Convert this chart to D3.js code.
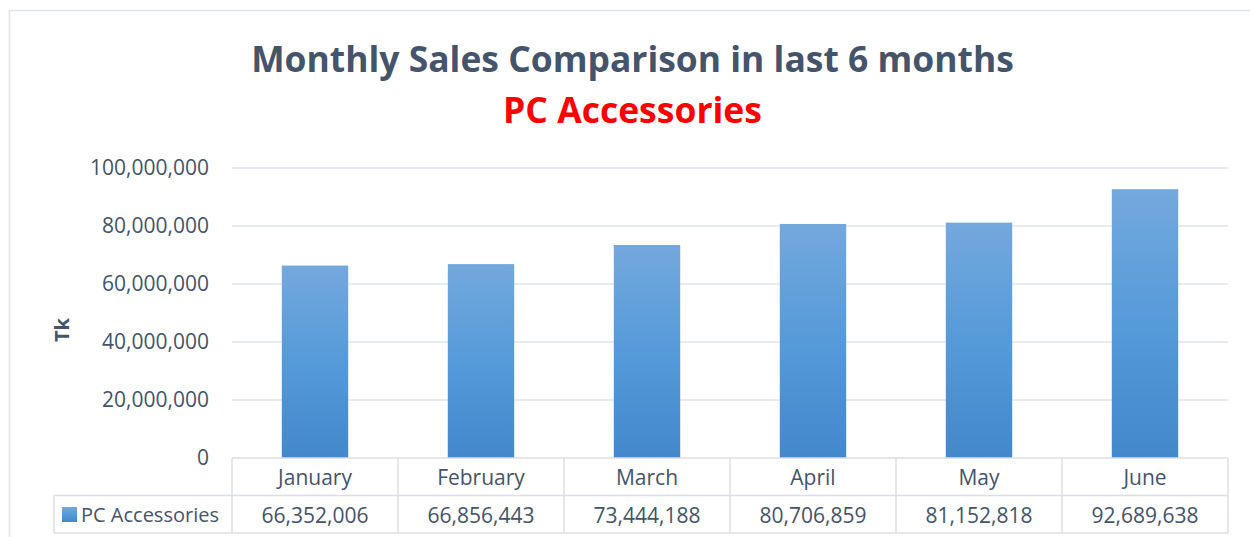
<!DOCTYPE html>
<html><head><meta charset="utf-8">
<script src="https://cdn.jsdelivr.net/npm/d3@7"></script>
<style>
html,body{margin:0;padding:0;background:#fff;}
svg{display:block;font-family:"Open Sans",sans-serif;}
</style></head>
<body><svg id="c" width="1250" height="537"></svg>
<script>
const categories = ["January","February","March","April","May","June"];
const values = [66352006, 66856443, 73444188, 80706859, 81152818, 92689638];
const seriesName = "PC Accessories";
const yTicks = [0, 20000000, 40000000, 60000000, 80000000, 100000000];
const titleText = "Monthly Sales Comparison in last 6 months";
const subtitleText = "PC Accessories";
const yAxisTitle = "Tk";

(function(){
const svg = d3.select("#c");
const txt = "#44546a", gridC = "#e1e5eb";
const pL = 232, pR = 1228, pT = 168, pB = 458;
const rowH = 37.5;

svg.append("rect").attr("x",9.5).attr("y",10.5).attr("width",1300).attr("height",600)
  .attr("fill","none").attr("stroke","#dfe3ea").attr("stroke-width",1.5);

const defs = svg.append("defs");
const grad = defs.append("linearGradient").attr("id","bg").attr("x1",0).attr("y1",0).attr("x2",0).attr("y2",1);
grad.append("stop").attr("offset","0%").attr("stop-color","#74a8dd");
grad.append("stop").attr("offset","50%").attr("stop-color","#559ad9");
grad.append("stop").attr("offset","100%").attr("stop-color","#4288cb");

const x = d3.scaleBand().domain(categories).range([pL,pR]).paddingInner(0).paddingOuter(0);
const y = d3.scaleLinear().domain([0,100000000]).range([pB,pT]);
const fmt = d3.format(",");

function fit(sel, w){
  const n = sel.node(); const fs = parseFloat(sel.attr("font-size"));
  const cw = n.getComputedTextLength();
  if (cw > 0) sel.attr("font-size", fs*w/cw);
}

const t1 = svg.append("text").attr("x",632.5).attr("y",72).attr("text-anchor","middle")
  .attr("font-weight","bold").attr("font-size",36).attr("fill",txt).text(titleText);
fit(t1, 763);
const t2 = svg.append("text").attr("x",632.5).attr("y",123).attr("text-anchor","middle")
  .attr("font-weight","bold").attr("font-size",36).attr("fill","#ff0000").text(subtitleText);
fit(t2, 259);

svg.append("g").selectAll("line").data(yTicks.filter(d=>d>0)).join("line")
  .attr("x1",pL).attr("x2",pR).attr("y1",d=>y(d)).attr("y2",d=>y(d))
  .attr("stroke",gridC).attr("stroke-width",1.5);

const yAxis = d3.axisLeft(y).tickValues(yTicks).tickFormat(fmt).tickSize(0).tickPadding(0);
const yg = svg.append("g").attr("transform",`translate(209,0)`).call(yAxis);
yg.select(".domain").remove();
yg.selectAll("text").attr("font-size",21).attr("fill",txt).attr("font-family","Open Sans");

svg.append("text").attr("transform","translate(69,330) rotate(-90)").attr("text-anchor","middle")
  .attr("font-weight","bold").attr("font-size",20).attr("fill",txt).text(yAxisTitle);

const bw = x.bandwidth()/2.5;
svg.append("g").selectAll("rect").data(values).join("rect")
  .attr("x",(d,i)=>x(categories[i])+x.bandwidth()/2-bw/2)
  .attr("width",bw)
  .attr("y",d=>y(d)).attr("height",d=>y(0)-y(d))
  .attr("fill","url(#bg)");

const tg = svg.append("g");
const lineC = "#dcdfe5";
const legL = 54;
const r1 = pB, r2 = pB+rowH, r3 = pB+2*rowH;
tg.append("line").attr("x1",pL).attr("x2",pR).attr("y1",r1).attr("y2",r1).attr("stroke",lineC).attr("stroke-width",1.5);
tg.append("line").attr("x1",legL).attr("x2",pR).attr("y1",r2).attr("y2",r2).attr("stroke",lineC).attr("stroke-width",1.5);
tg.append("line").attr("x1",legL).attr("x2",pR).attr("y1",r3).attr("y2",r3).attr("stroke",lineC).attr("stroke-width",1.5);
tg.append("line").attr("x1",legL).attr("x2",legL).attr("y1",r2).attr("y2",r3).attr("stroke",lineC).attr("stroke-width",1.5);
const bounds = categories.map(c=>x(c)).concat([pR]);
tg.selectAll("line.v").data(bounds).join("line").attr("class","v")
  .attr("x1",d=>d).attr("x2",d=>d).attr("y1",r1).attr("y2",r3).attr("stroke",lineC).attr("stroke-width",1.5);

tg.selectAll("text.cat").data(categories).join("text").attr("class","cat")
  .attr("x",d=>x(d)+x.bandwidth()/2).attr("y",r1+27).attr("text-anchor","middle")
  .attr("font-size",21).attr("fill",txt).text(d=>d);
tg.selectAll("text.val").data(values).join("text").attr("class","val")
  .attr("x",(d,i)=>x(categories[i])+x.bandwidth()/2).attr("y",r2+27).attr("text-anchor","middle")
  .attr("font-size",21).attr("fill",txt).text(d=>fmt(d));

tg.append("rect").attr("x",62).attr("y",507).attr("width",15).attr("height",15).attr("fill","url(#bg)");
tg.append("text").attr("x",81).attr("y",r2+26).attr("font-size",20).attr("fill",txt).text(seriesName);
})();
</script></body></html>
